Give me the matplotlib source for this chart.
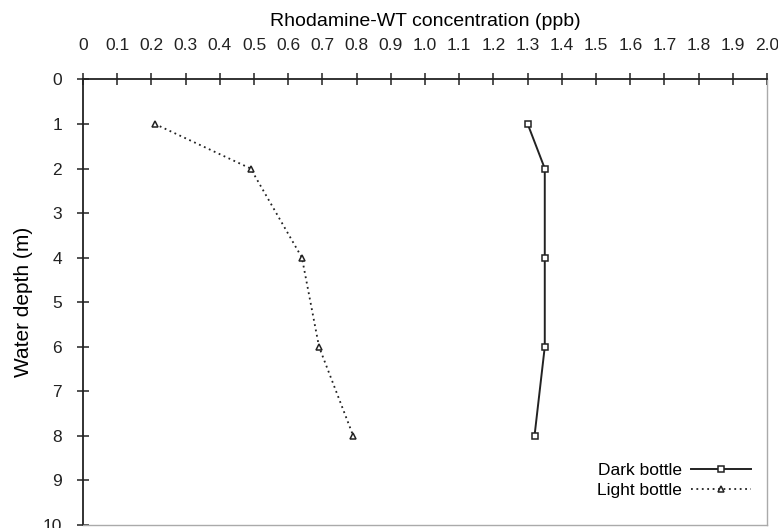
import matplotlib.pyplot as plt

plt.rcParams['font.family'] = ['Liberation Sans', 'DejaVu Sans']

# depths (m) and concentrations (ppb)
dark_depth = [1, 2, 4, 6, 8]
dark_conc = [1.30, 1.35, 1.35, 1.35, 1.32]
light_depth = [1, 2, 4, 6, 8]
light_conc = [0.21, 0.49, 0.64, 0.69, 0.79]

fig = plt.figure(figsize=(7.78, 5.28), dpi=100)
ax = fig.add_axes([0.1067, 0.0057, 0.8793, 0.8439])

ax.plot(dark_conc, dark_depth, color='#222222', linewidth=1.4, marker='s',
        markersize=5, markerfacecolor='white', markeredgecolor='#222222',
        markeredgewidth=1.1, label='Dark bottle')
ax.plot(light_conc, light_depth, color='#222222', linewidth=1.3, linestyle=(0, (1, 2)),
        marker='^', markersize=5, markerfacecolor='white', markeredgecolor='#222222',
        markeredgewidth=1.1, label='Light bottle')

ax.set_xlim(0, 2.0)
ax.set_ylim(10, 0)
ax.set_xticks([i / 10 for i in range(21)])
ax.set_xticklabels(['0'] + [f'{i/10:.1f}' for i in range(1, 21)])
ax.set_yticks(range(11))
ax.xaxis.tick_top()
ax.xaxis.set_label_position('top')
ax.tick_params(axis='both', direction='inout', length=8, width=1.1, labelsize=12.5, colors='#222222')
ax.tick_params(axis='x', pad=15)
ax.tick_params(axis='y', pad=11)

for s in ['top', 'left']:
    ax.spines[s].set_color('#222222')
    ax.spines[s].set_linewidth(1.3)
for s in ['bottom', 'right']:
    ax.spines[s].set_color('#aaaaaa')
    ax.spines[s].set_linewidth(1.0)

ax.set_xlabel('Rhodamine-WT concentration (ppb)', fontsize=14, labelpad=9)
ax.set_ylabel('Water depth (m)', fontsize=15, labelpad=7)

ax.legend(loc='lower right', frameon=False, markerfirst=False, fontsize=12.5,
          handlelength=3.5, handletextpad=0.5, labelspacing=0.3,
          bbox_to_anchor=(1.0, 0.025))

fig.savefig('out.png', dpi=100)
